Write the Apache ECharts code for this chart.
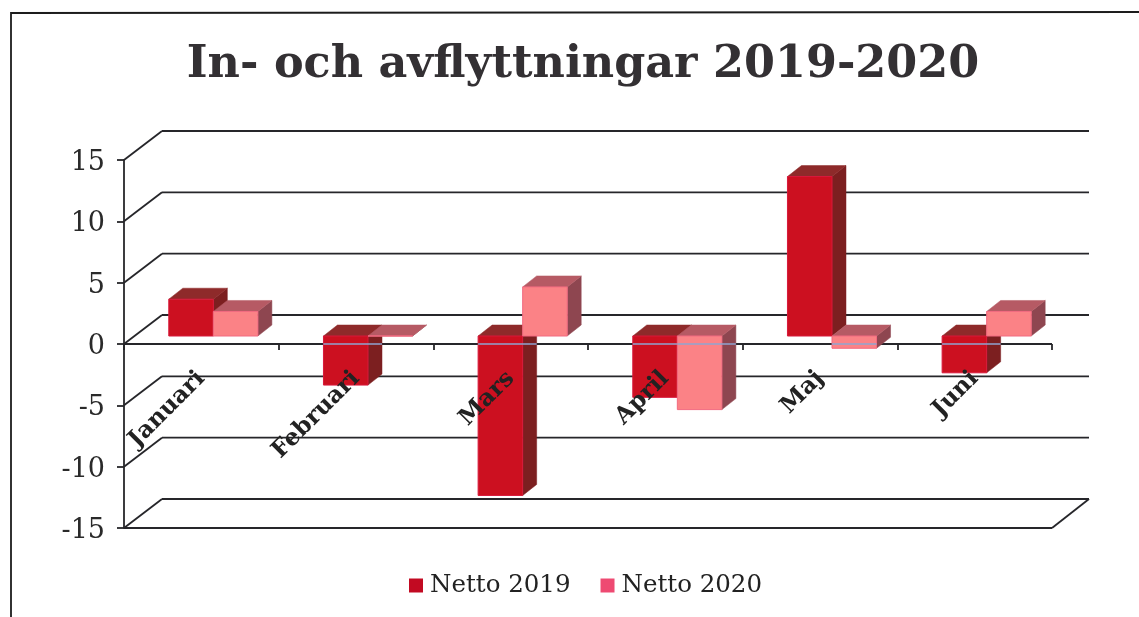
<!DOCTYPE html>
<html>
<head>
<meta charset="utf-8">
<title>In- och avflyttningar 2019-2020</title>
<script src="https://cdn.jsdelivr.net/npm/echarts@6/dist/echarts.min.js"></script>
<style>
    html, body { margin: 0; padding: 0; background: #ffffff; }
    #chart { width: 1139px; height: 617px; }
</style>
</head>
<body>
<div id="chart"></div>
<script>
const months = ['Januari', 'Februari', 'Mars', 'April', 'Maj', 'Juni'];
const netto2019 = [3, -4, -13, -5, 13, -3];
const netto2020 = [2, 0, 4, -6, -1, 2];
const yTicks = [15, 10, 5, 0, -5, -10, -15];

const serif = '"DejaVu Serif", serif';
const lineColor = '#26262a';

// fake 3D, same look as the old office chart
const wallDx = 38;
const wallDy = -29;
const baseDx = 12;
const baseDy = -8;
const depthDx = 14;
const depthDy = -11;
const barRatio = 0.288;

const poly = (points, fill) => ({
    type: 'polygon',
    shape: { points },
    style: { fill, stroke: fill, lineWidth: 0.5 }
});

const seg = (a, b, stroke = lineColor, lineWidth = 1.8) => ({
    type: 'line',
    shape: { x1: a[0], y1: a[1], x2: b[0], y2: b[1] },
    style: { stroke, lineWidth }
});

const renderWall = (params, api) => {
    const cs = params.coordSys;
    const left = cs.x;
    const right = cs.x + cs.width;
    const value = api.value(0);
    const y = api.coord([0, value])[1];
    const children = [
        seg([left, y], [left + wallDx, y + wallDy]),
        seg([left + wallDx, y + wallDy], [right + wallDx - 1, y + wallDy])
    ];
    if (value === 0) {
        children.push(seg([left, y], [right, y]));
    }
    if (value === yTicks[yTicks.length - 1]) {
        children.push(seg([left, y], [right, y]));
        children.push(seg([right, y], [right + wallDx - 1, y + wallDy]));
    }
    return { type: 'group', children };
};

const renderBar = (seriesPos, colors) => (params, api) => {
    const band = api.size([1, 0])[0];
    const w = band * barRatio;
    const center = api.coord([api.value(0), 0])[0] + baseDx;
    const x0 = center - w + seriesPos * w;
    const x1 = x0 + w;
    const yZero = api.coord([0, 0])[1];
    const yBase = yZero + baseDy;
    const yVal = api.coord([0, api.value(1)])[1] + baseDy;
    const yTop = Math.min(yBase, yVal);
    const yBot = Math.max(yBase, yVal);
    const children = [
        poly([[x1, yTop], [x1 + depthDx, yTop + depthDy], [x1 + depthDx, yBot + depthDy], [x1, yBot]], colors.side),
        poly([[x0, yTop], [x0 + depthDx, yTop + depthDy], [x1 + depthDx, yTop + depthDy], [x1, yTop]], colors.top),
        {
            type: 'rect',
            shape: { x: x0, y: yTop, width: w, height: yBot - yTop },
            style: { fill: colors.front, stroke: colors.edge, lineWidth: 1 }
        }
    ];
    // the zero line shows through the bars as a thin bluish streak
    if (yTop < yZero && yZero < yBot) {
        const streakEnd = yZero < yBot + depthDy ? x1 + depthDx : x1;
        children.push(seg([x0, yZero], [streakEnd, yZero], '#8fa4d0', 1.5));
    }
    return { type: 'group', children };
};

const chart = echarts.init(document.getElementById('chart'));

chart.setOption({
    animation: false,
    backgroundColor: '#ffffff',
    title: {
        text: 'In- och avflyttningar 2019-2020',
        left: 578,
        top: 38,
        textAlign: 'center',
        textStyle: { fontFamily: serif, fontSize: 44.5, fontWeight: 'bold', color: '#333033' }
    },
    legend: {
        left: 404,
        top: 568,
        data: ['Netto 2019', 'Netto 2020'],
        icon: 'rect',
        itemWidth: 14,
        itemHeight: 14,
        itemGap: 30,
        textStyle: { fontFamily: serif, fontSize: 24.5, color: '#222222', padding: [0, 0, 0, 2] }
    },
    grid: { left: 124, right: 87, top: 160, bottom: 89, outerBoundsMode: 'none' },
    xAxis: {
        type: 'category',
        data: months,
        z: 10,
        offset: -184,
        axisLine: { show: false, onZero: false },
        axisTick: { show: true, length: 6, lineStyle: { color: lineColor, width: 1.8 } },
        axisLabel: {
            rotate: 45,
            margin: 31,
            fontFamily: serif,
            fontSize: 23.5,
            fontWeight: 'bold',
            color: '#222222'
        }
    },
    yAxis: {
        type: 'value',
        min: -15,
        max: 15,
        interval: 5,
        axisLine: { show: true, lineStyle: { color: lineColor, width: 1.8 } },
        axisTick: { show: true, length: 7, lineStyle: { color: lineColor, width: 1.8 } },
        axisLabel: {
            margin: 19,
            formatter: '{n|{value}}',
            rich: { n: { padding: [6, 0, 0, 0], fontFamily: serif, fontSize: 27, color: '#2a2a2a' } }
        },
        splitLine: { show: false }
    },
    graphic: [{
        type: 'polyline',
        silent: true,
        shape: { points: [[11, 617], [11, 13], [1139, 12]] },
        style: { stroke: '#1c1c1c', lineWidth: 1.8, fill: 'none' }
    }],
    series: [
        {
            type: 'custom',
            coordinateSystem: 'cartesian2d',
            silent: true,
            z: 1,
            encode: { y: 0 },
            data: yTicks.map(v => [v]),
            renderItem: renderWall
        },
        {
            type: 'custom',
            name: 'Netto 2019',
            coordinateSystem: 'cartesian2d',
            z: 3,
            itemStyle: { color: '#c20a22' },
            encode: { x: 0, y: 1 },
            data: netto2019.map((v, i) => [i, v]),
            renderItem: renderBar(0, { front: '#cc1020', top: '#8e2a2a', side: '#7c1f20', edge: '#d8183a' })
        },
        {
            type: 'custom',
            name: 'Netto 2020',
            coordinateSystem: 'cartesian2d',
            z: 4,
            itemStyle: { color: '#ee4a72' },
            encode: { x: 0, y: 1 },
            data: netto2020.map((v, i) => [i, v]),
            renderItem: renderBar(1, { front: '#fb8286', top: '#b65a64', side: '#8e4650', edge: '#f26a80' })
        }
    ]
});
</script>
</body>
</html>
